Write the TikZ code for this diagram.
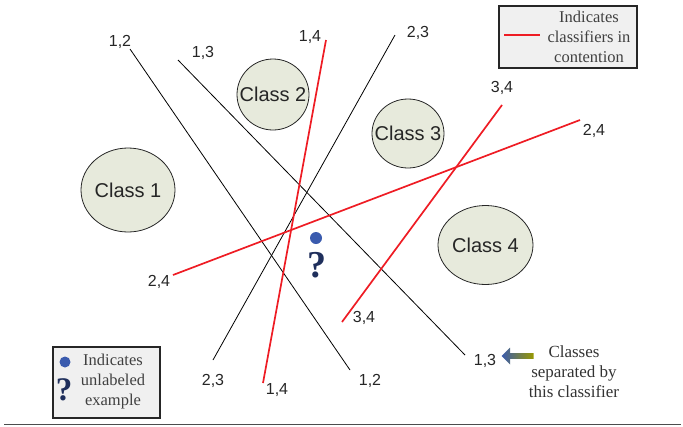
\documentclass[tikz,border=0pt]{standalone}
\usepackage{fontspec}
\setmainfont{Liberation Serif}
\setsansfont{Liberation Sans}
\usetikzlibrary{arrows.meta,shapes.arrows,shapes.geometric}
\definecolor{classfill}{HTML}{E7EADC}
\definecolor{redline}{HTML}{EE1C24}
\definecolor{dotblue}{HTML}{3A5BAE}
\definecolor{qblue}{HTML}{1F2F5C}
\definecolor{legfill}{HTML}{F0F0F0}
\tikzset{
  classnode/.style={ellipse, draw=black!85, fill=classfill, line width=0.8pt, inner sep=0pt},
  classtext/.style={font=\sffamily\fontsize{20}{20}\selectfont, text=black!85, inner sep=0pt},
  sepline/.style={black, line width=0.8pt},
  contline/.style={redline, line width=1.7pt},
  lbl/.style={font=\sffamily\fontsize{16}{16}\selectfont, inner sep=1pt, text=black!85},
  legbox/.style={draw=black!85, fill=legfill, line width=1.2pt},
  legtext/.style={font=\rmfamily\fontsize{16.5}{20}\selectfont, align=center, text=black!75},
  qmark/.style={text=qblue, font=\rmfamily\bfseries\fontsize{38}{38}\selectfont, inner sep=0pt},
}
\begin{document}
\begin{tikzpicture}[x=1pt,y=-1pt]
\useasboundingbox (0,0) rectangle (683,426);
% separating lines
\coordinate (a12) at (130,49); \coordinate (b12) at (350,370);
\coordinate (a13) at (178,60); \coordinate (b13) at (465,355);
\coordinate (a23) at (395,35); \coordinate (b23) at (213,360);
\coordinate (a14) at (326,40); \coordinate (b14) at (263,383);
\coordinate (a34) at (502,105); \coordinate (b34) at (342,322);
\coordinate (a24) at (173,275); \coordinate (b24) at (580,120);
\draw[sepline] (a12) -- (b12);
\draw[sepline] (a13) -- (b13);
\draw[sepline] (a23) -- (b23);
\draw[contline] (a14) -- (b14);
\draw[contline] (a34) -- (b34);
\draw[contline] (a24) -- (b24);
% labels
\node[lbl] (l12a) at (120,42) {1,2};
\node[lbl] (l12b) at (370,381) {1,2};
\node[lbl] (l13a) at (203,53) {1,3};
\node[lbl] (l13b) at (485,361) {1,3};
\node[lbl] (l23a) at (418,33) {2,3};
\node[lbl] (l23b) at (213,381) {2,3};
\node[lbl] (l14a) at (310,37) {1,4};
\node[lbl] (l14b) at (277,390) {1,4};
\node[lbl] (l34a) at (502,88) {3,4};
\node[lbl] (l34b) at (364,318) {3,4};
\node[lbl] (l24a) at (159,282) {2,4};
\node[lbl] (l24b) at (594,131) {2,4};
% classes
\node[classnode, minimum width=94pt, minimum height=84pt] (c1) at (128,190) {};
\node[classtext] (t1) at (c1) {Class 1};
\node[classnode, minimum width=72pt, minimum height=71pt] (c2) at (273,94.5) {};
\node[classtext] (t2) at (c2) {Class 2};
\node[classnode, minimum width=72pt, minimum height=69pt] (c3) at (408,133.5) {};
\node[classtext] (t3) at (c3) {Class 3};
\node[classnode, minimum width=95pt, minimum height=79pt] (c4) at (485.5,245) {};
\node[classtext] (t4) at (c4) {Class 4};
% unlabeled example
\node[circle, fill=dotblue, minimum size=12pt, inner sep=0pt] (dot) at (316,238) {};
\node[qmark] (q) at (317,265) {?};
% legend top right
\node[legbox, minimum width=138pt, minimum height=62pt] (leg1) at (568,37) {};
\coordinate (r1) at (504,35); \coordinate (r2) at (540,35);
\draw[contline, line width=1.5pt] (r1) -- (r2);
\node[legtext] (leg1t) at (589,37) {Indicates\\classifiers in\\contention};
% legend bottom left
\node[legbox, minimum width=107pt, minimum height=71pt] (leg2) at (106.5,382.5) {};
\node[circle, fill=dotblue, minimum size=11pt, inner sep=0pt] (ldot) at (65,362) {};
\node[qmark, font=\rmfamily\bfseries\fontsize{33}{33}\selectfont] (lq) at (64,390) {?};
\node[legtext] (leg2t) at (113,382) {Indicates\\unlabeled\\example};
% arrow and note
\node[single arrow, draw=none, left color=dotblue, right color=olive!80!yellow, shape border rotate=180, minimum height=32pt, minimum width=17pt, single arrow head extend=3.5pt, inner sep=1.5pt] (arr) at (519,356) {};
\node[legtext, font=\rmfamily\fontsize{17}{20}\selectfont, text=black!80] (note) at (574,372) {Classes\\separated by\\this classifier};
% bottom rule
\coordinate (h1) at (4,424); \coordinate (h2) at (681,424);
\draw[black!70, line width=0.8pt] (h1) -- (h2);
\end{tikzpicture}
\end{document}
